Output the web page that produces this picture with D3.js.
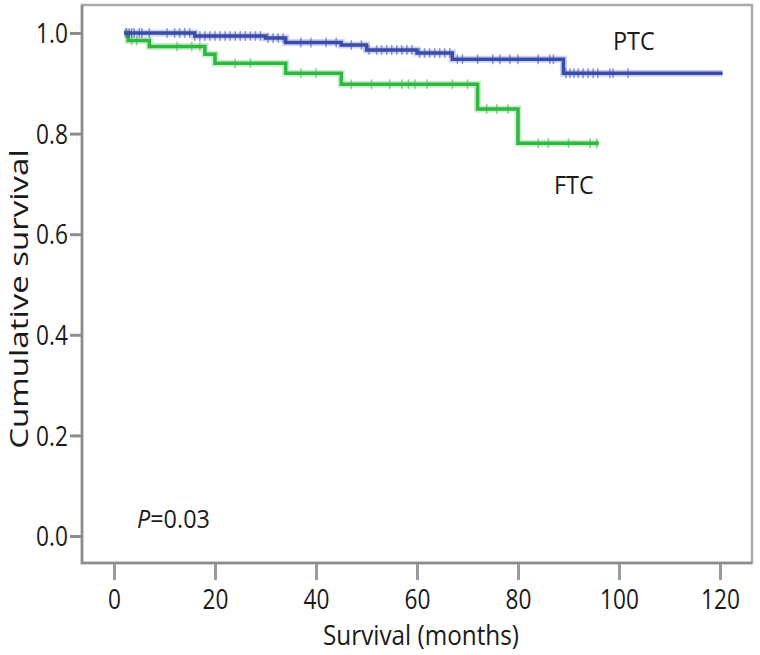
<!DOCTYPE html>
<html>
<head>
<meta charset="utf-8">
<script src="https://cdn.jsdelivr.net/npm/d3@7/dist/d3.min.js"></script>
<style>
  html, body { margin: 0; padding: 0; background: #fff; }
  svg text { font-family: "Open Sans", "Noto Sans", sans-serif; fill: #1a1a1a; }
</style>
</head>
<body>
<svg id="chart" width="760" height="655"></svg>
<script>
// ---- data ----
const xTicks = [0, 20, 40, 60, 80, 100, 120];
const yTicks = [0.0, 0.2, 0.4, 0.6, 0.8, 1.0];

const ptcStepTimes = [2, 16, 30, 34, 45, 50, 60, 67, 89];
const ptcStepSurv  = [1.0, 0.994, 0.99, 0.981, 0.976, 0.966, 0.96, 0.948, 0.92];
const ptcEnd = 120.5;
const ptcCensor = [2.5, 3, 3.5, 4, 5, 5.5, 7, 10.5, 12, 13, 14, 15, 16, 17, 18, 19, 20, 21, 22, 23, 24, 25, 26, 27, 28, 29,
  30.5, 31.5, 32.5, 33.5, 37, 39, 42, 44, 47, 49, 50.5, 52, 53, 54, 55, 56, 57, 58, 59, 60.5, 61.5, 62.5, 63.5, 64.5,
  65.5, 66.5, 68, 69, 72, 75, 76.4, 78.4, 80, 84, 86.3, 87, 89.5, 90.3, 91.1, 91.9, 92.9, 93.9, 94.9, 95.8, 98.2, 98.8, 101.8];

const ftcStepTimes = [2, 2.8, 7, 18, 20, 34, 45, 72, 80];
const ftcStepSurv  = [1.0, 0.985, 0.973, 0.958, 0.94, 0.92, 0.898, 0.849, 0.781];
const ftcEnd = 96;
const ftcCensor = [2.3, 3.5, 4.5, 12.5, 15.4, 17, 24, 27, 37, 40, 47, 51, 54.6, 57, 58.3, 59.6, 62, 67, 70,
  73.8, 75.8, 78, 84, 86, 90, 94.3, 95.6];

const seriesNames = ["PTC", "FTC"];
const seriesColors = ["#3a4cab", "#2fb83f"];

// ---- layout ----
const svg = d3.select("#chart");
const frame = { left: 82, right: 752, top: 5, bottom: 563 };
const x = d3.scaleLinear().domain([0, 120]).range([114, 720]);
const y = d3.scaleLinear().domain([0, 1]).range([536, 33]);

// frame
svg.append("rect")
  .attr("x", frame.left).attr("y", frame.top)
  .attr("width", frame.right - frame.left).attr("height", frame.bottom - frame.top)
  .attr("fill", "#fff").attr("stroke", "#aaaaaa").attr("stroke-width", 2.5);
svg.append("path")
  .attr("d", `M${frame.left},${frame.top} V${frame.bottom} H${frame.right}`)
  .attr("fill", "none").attr("stroke", "#8c8c8c").attr("stroke-width", 2.5);

// y axis ticks
const yAxis = d3.axisLeft(y).tickValues(yTicks).tickFormat(d3.format(".1f")).tickSize(11).tickPadding(2);
const gy = svg.append("g").attr("transform", `translate(${frame.left - 1},0)`).call(yAxis);
gy.select(".domain").remove();
gy.selectAll(".tick line").attr("stroke", "#8c8c8c").attr("stroke-width", 3);
gy.selectAll(".tick text")
  .attr("x", null).attr("dy", "0.36em")
  .attr("transform", "translate(-13,0) scale(0.84,1)")
  .style("font-size", "27px").attr("fill", "#1a1a1a");

// x axis ticks
const xAxis = d3.axisBottom(x).tickValues(xTicks).tickSize(16).tickPadding(10);
const gx = svg.append("g").attr("transform", `translate(0,${frame.bottom + 1})`).call(xAxis);
gx.select(".domain").remove();
gx.selectAll(".tick line").attr("stroke", "#9a9a9a").attr("stroke-width", 3);
gx.selectAll(".tick text")
  .attr("transform", "scale(0.84,1)")
  .style("font-size", "27px").attr("fill", "#1a1a1a");

// axis titles
svg.append("text").attr("transform", "translate(421,645) scale(0.9,1)").attr("text-anchor", "middle")
  .style("font-size", "27px").text("Survival (months)");
svg.append("text").attr("transform", "translate(28,299) rotate(-90) scale(1.32,1)").attr("text-anchor", "middle")
  .style("font-size", "25px").text("Cumulative survival");

// curves
function stepPoints(times, surv, end) {
  const pts = times.map((t, i) => [t, surv[i]]);
  pts.push([end, surv[surv.length - 1]]);
  return pts;
}
function survAt(times, surv, t) {
  let s = surv[0];
  for (let i = 0; i < times.length; i++) if (times[i] <= t) s = surv[i];
  return s;
}
const line = d3.line().x(d => x(d[0])).y(d => y(d[1])).curve(d3.curveStepAfter);

const series = [
  { times: ptcStepTimes, surv: ptcStepSurv, end: ptcEnd, censor: ptcCensor, color: seriesColors[0] },
  { times: ftcStepTimes, surv: ftcStepSurv, end: ftcEnd, censor: ftcCensor, color: seriesColors[1] }
];
[series[1], series[0]].forEach(s => {
  const pts = stepPoints(s.times, s.surv, s.end);
  const g = svg.append("g");
  g.append("path").attr("d", line(pts)).attr("fill", "none")
    .attr("stroke", s.color).attr("stroke-opacity", 0.25).attr("stroke-width", 7);
  g.selectAll("line.c").data(s.censor).join("line")
    .attr("x1", d => x(d)).attr("x2", d => x(d))
    .attr("y1", d => y(survAt(s.times, s.surv, d)) - 5)
    .attr("y2", d => y(survAt(s.times, s.surv, d)) + 5)
    .attr("stroke", s.color).attr("stroke-opacity", 0.55).attr("stroke-width", 1.5);
  g.append("path").attr("d", line(pts)).attr("fill", "none")
    .attr("stroke", s.color).attr("stroke-width", 3.5);
});

// labels
svg.append("text").attr("transform", "translate(613,50) scale(0.9,1)").style("font-size", "26px").text(seriesNames[0]);
svg.append("text").attr("transform", "translate(554,194) scale(0.9,1)").style("font-size", "26px").text(seriesNames[1]);
const ptext = svg.append("text").attr("transform", "translate(137,528) scale(0.9,1)").style("font-size", "26px");
ptext.append("tspan").style("font-style", "italic").text("P");
ptext.append("tspan").text("=0.03");
</script>
</body>
</html>
